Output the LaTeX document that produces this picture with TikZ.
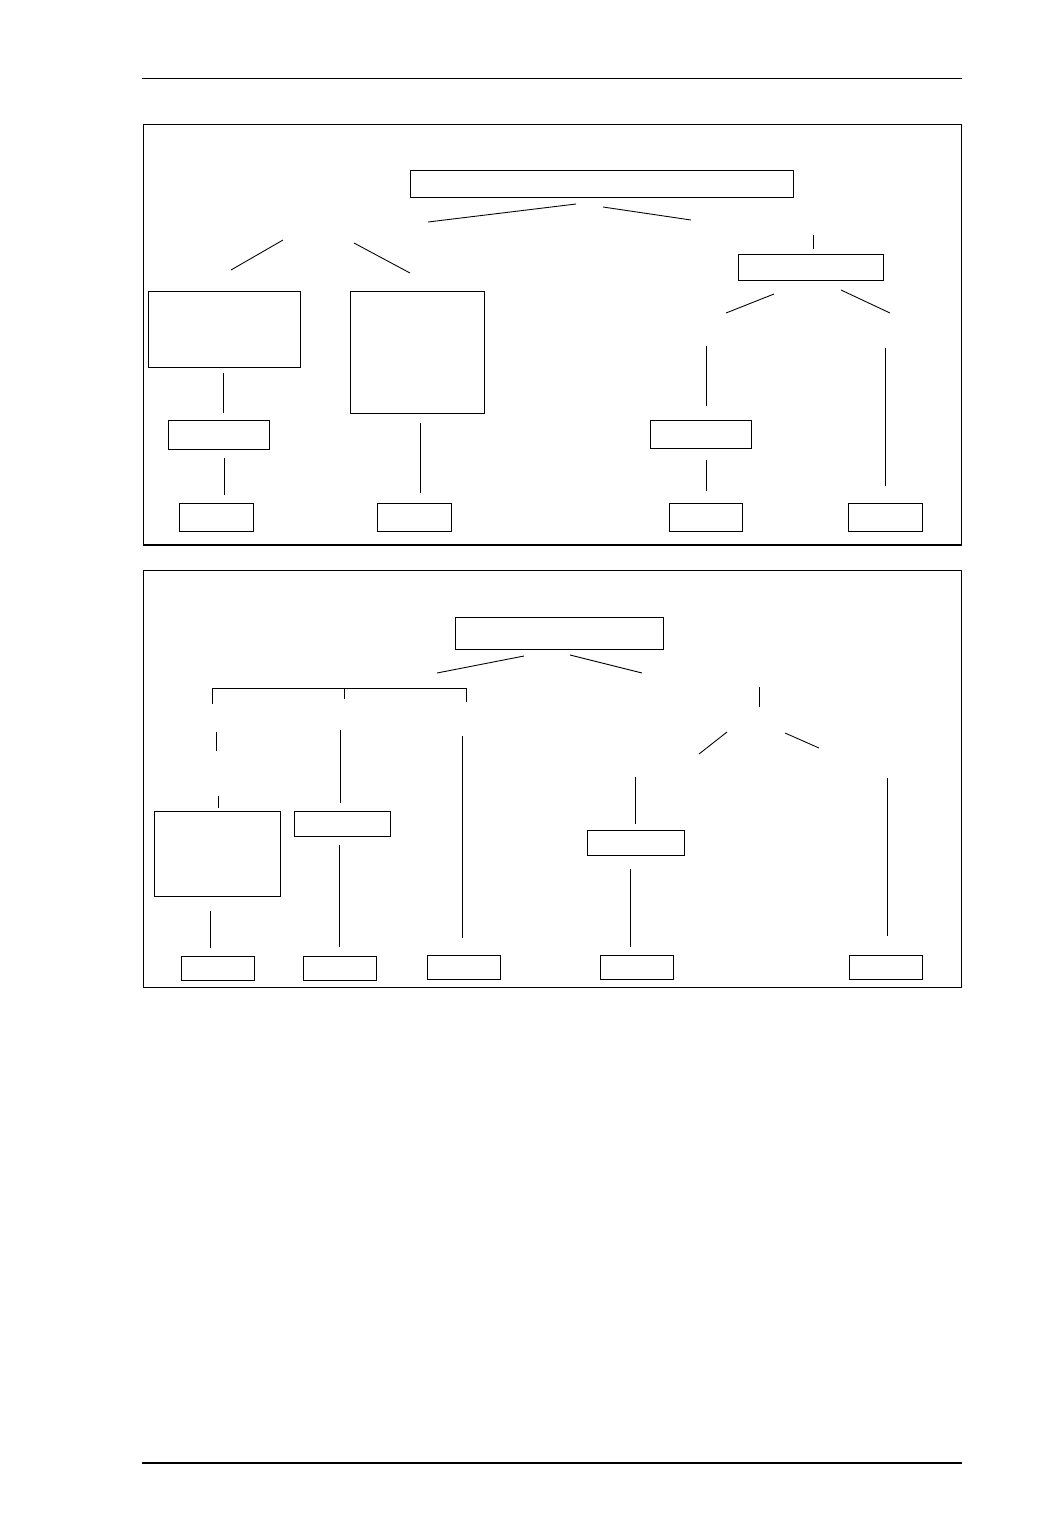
\documentclass[tikz,border=0pt]{standalone}
\usepackage{tikz}
\tikzstyle{panel} = [rectangle, draw=black, line width=0.6pt, inner sep=0pt, outer sep=0pt]
\tikzstyle{block} = [rectangle, draw=black, line width=0.5pt, inner sep=0pt, outer sep=0pt]
\tikzstyle{leafA} = [block, minimum width=14.72mm, minimum height=5.68mm]
\tikzstyle{leafB} = [block, minimum width=14.6mm, minimum height=4.8mm]
\tikzstyle{link} = [line width=0.5pt]
\tikzstyle{rule} = [line width=0.8pt]

\begin{document}
\begin{tikzpicture}[x=0.2mm, y=-0.2mm]
\useasboundingbox (0,0) rectangle (1053,1537);

% Page rules
\coordinate (headL) at (142.3,78.3);
\coordinate (headR) at (961.7,78.3);
\coordinate (footL) at (142.3,1463);
\coordinate (footR) at (961.7,1463);
\draw [rule] (headL) -- (headR);
\draw [rule] (footL) -- (footR);

% Panels
\node (panelA) [panel, minimum width=163.64mm, minimum height=84.1mm] at (552.6,334.75) {};
\node (panelB) [panel, minimum width=163.68mm, minimum height=83.4mm] at (552.5,779.2) {};

% Upper tree / blocks
\node (rootA) [block, minimum width=76.66mm, minimum height=5.54mm] at (601.65,183.85) {};
\node (leftBig) [block, minimum width=30.48mm, minimum height=15.06mm] at (224.5,329.35) {};
\node (leftMid) [block, minimum width=20.28mm, minimum height=5.86mm] at (219,434.65) {};
\node (leftLeaf) [leafA] at (216.15,517.5) {};
\node (midBig) [block, minimum width=26.8mm, minimum height=24.32mm] at (417.7,352.5) {};
\node (midLeaf) [leafA] at (414.5,517.5) {};
\node (rightTop) [block, minimum width=29mm, minimum height=5.12mm] at (810.8,267.5) {};
\node (rightMid) [block, minimum width=20.28mm, minimum height=5.68mm] at (701,434.5) {};
\node (rightLeaf) [leafA] at (705.85,517.5) {};
\node (farLeaf) [leafA] at (885.5,517.5) {};

% Lower tree / blocks
\node (rootB) [block, minimum width=41.52mm, minimum height=6.34mm] at (559.5,633.15) {};
\node (lowBig) [block, minimum width=25.26mm, minimum height=17mm] at (217.15,853.5) {};
\node (lowLeafA) [leafB] at (218.3,968.15) {};
\node (lowMid) [block, minimum width=19.26mm, minimum height=5mm] at (342.15,823.5) {};
\node (lowLeafB) [leafB] at (339.5,968) {};
\node (lowLeafC) [leafB] at (464.15,967.65) {};
\node (lowRight) [block, minimum width=19.32mm, minimum height=5mm] at (636,842.8) {};
\node (lowLeafD) [leafB] at (636.85,967.5) {};
\node (lowLeafE) [leafB] at (886,967.85) {};

% Line ends
\foreach \n/\x/\y in {
  sAa/576/204, sAb/428/222, sBa/603/207, sBb/691/220,
  sCa/283/240, sCb/231/270, sDa/354/243, sDb/410/273,
  sEa/223/373, sEb/223/413, sFa/224.3/458, sFb/224.3/495,
  sGa/420.3/423, sGb/420.3/493, sHa/813/235, sHb/813/249,
  sIa/774/294, sIb/726/313, sJa/841/290, sJb/890/313,
  sKa/706.7/346, sKb/706.7/406, sLa/706/460, sLb/706/491,
  sMa/885.3/348, sMb/885.3/486,
  tAa/524/656, tAb/437/673, tBa/570/655, tBb/642/673,
  tCa/216.3/732, tCb/216.3/751, tDa/218.7/796, tDb/218.7/808.3,
  tEa/210.7/911, tEb/210.7/948, tFa/340.7/730, tFb/340.7/803,
  tGa/339/845, tGb/339/947, tHa/462.7/736, tHb/462.7/938,
  tIa/759.7/687, tIb/759.7/707, tJa/727/732, tJb/699/754,
  tKa/785/733, tKb/819/748, tLa/635/777, tLb/635/824,
  tMa/630/869, tMb/630/947, tNa/887.3/778, tNb/887.3/936}
  \coordinate (\n) at (\x,\y);

% Lines
\foreach \a in {sA,sB,sC,sD,sE,sF,sG,sH,sI,sJ,sK,sL,sM,
                tA,tB,tC,tD,tE,tF,tG,tH,tI,tJ,tK,tL,tM,tN}
  \draw [link] (\a a) -- (\a b);

% Bracket
\coordinate (brL) at (212.7,704.3);
\coordinate (brM) at (344.7,699.3);
\coordinate (brR) at (466,701.7);
\coordinate (brTop) at (344.7,688.7);
\draw [link] (brL) -- (brL |- brTop) -- (brR |- brTop) -- (brR);
\draw [link] (brM) -- (brTop);

\end{tikzpicture}
\end{document}
